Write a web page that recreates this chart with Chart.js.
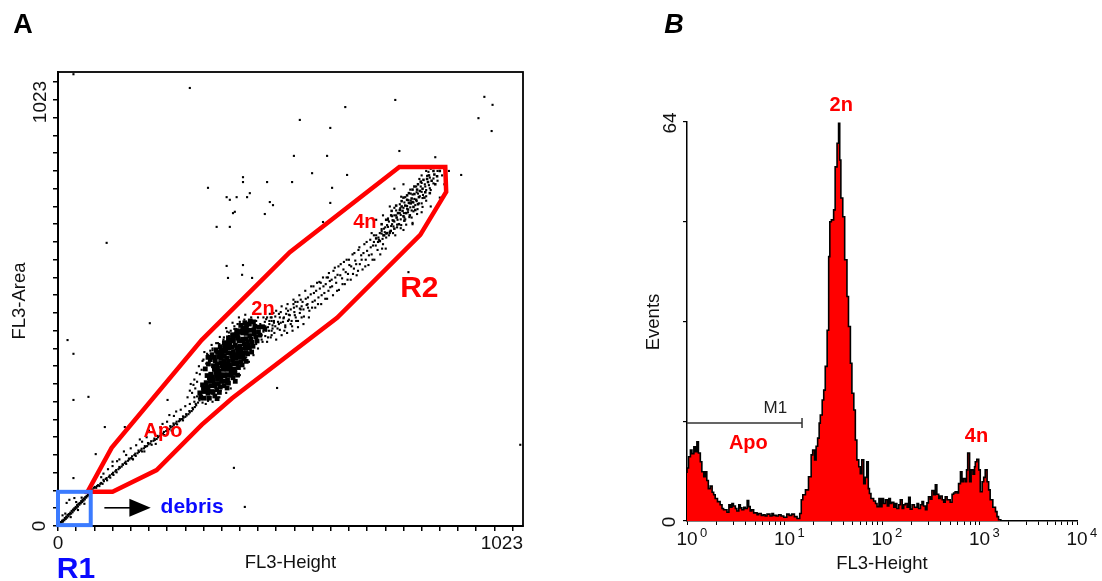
<!DOCTYPE html>
<html><head><meta charset="utf-8">
<script src="https://cdn.jsdelivr.net/npm/chart.js@4.4.1/dist/chart.umd.min.js"></script>
<style>
html,body{margin:0;padding:0;background:#fff;}
#wrap{position:relative;width:1102px;height:581px;background:#fff;}
canvas{position:absolute;left:0;top:0;}
</style></head><body>
<div id="wrap"><canvas id="c1" width="1102" height="581"></canvas><canvas id="c2" width="1102" height="581"></canvas></div>
<script>
// ---------- Panel A: FL3-Height vs FL3-Area (channel units 0-1023) ----------
const scatterTicks = [0,40,80,120,160,200,240,280,320,360,400,440,480,520,560,600,640,680,720,760,800,840,880,920,960,1000];

const debrisXY = [3,6, 5,4, 6,9, 8,8, 9,12, 11,10, 12,14, 14,13, 15,18, 17,16, 18,21, 20,19, 21,25, 23,22, 24,27, 26,26, 27,30, 29,28, 30,34, 32,31, 33,37, 35,35, 36,40, 38,38, 39,43, 41,41, 42,47, 44,44, 45,50, 47,48, 48,52, 50,51, 51,56, 53,54, 54,59, 56,57, 57,62, 59,60, 60,65, 62,64, 63,68, 65,67, 66,71, 68,70, 69,74, 19,52, 25,59, 36,63, 10,24, 44,36, 52,64, 28,20, 58,50, 16,28, 40,54];

const apoXY = [70,78, 74,84, 77,80, 81,88, 84,86, 88,92, 91,90, 95,97, 98,95, 101,101, 105,106, 108,103, 112,111, 115,109, 119,117, 122,115, 126,123, 129,121, 133,128, 136,131, 140,134, 143,138, 147,142, 150,140, 154,147, 157,150, 161,153, 164,151, 168,160, 171,158, 175,164, 178,167, 182,170, 185,168, 189,175, 192,178, 196,180, 199,184, 203,186, 206,183, 210,192, 213,194, 217,196, 220,200, 224,203, 227,206, 231,208, 234,205, 238,214, 241,216, 245,218, 248,222, 252,224, 255,228, 259,231, 262,229, 266,236, 269,238, 273,241, 276,244, 280,246, 283,249, 287,252, 290,256, 294,259, 297,263, 301,268, 304,272, 308,278, 311,283,
 100,118, 120,135, 135,150, 150,160, 160,175, 172,182, 185,190, 195,200, 210,212, 225,222, 240,235, 255,248, 270,262, 290,275, 300,290, 95,110, 130,146, 180,195, 200,215, 260,258, 230,230, 245,250, 280,270, 120,145, 145,168, 205,228, 110,128, 165,150, 190,168, 215,185, 250,215, 275,238];

const apo2XY = [72,82, 79,86, 86,90, 93,95, 100,104, 107,108, 114,114, 121,120, 128,126, 135,133, 142,139, 149,145, 156,152, 163,157, 170,163, 177,170, 184,174, 191,180, 198,187, 205,191, 212,197, 219,203, 226,209, 233,212, 240,219, 247,225, 254,231, 261,235, 268,241, 275,247, 282,252, 289,259, 296,266, 303,275, 310,287];

const g1CoreXY = [312,300, 320,310, 327,314, 335,326, 342,328, 349,338, 356,341, 363,353, 370,358, 377,363, 384,375, 391,378, 398,387, 405,390, 412,402, 419,407, 427,414, 435,426, 444,430, 455,444,
 318,318, 326,323, 333,334, 340,336, 347,346, 354,349, 361,361, 368,366, 375,371, 382,383, 389,386, 396,395, 403,398, 410,410, 417,415, 424,421, 432,433, 441,437, 450,449,
 314,291, 322,303, 330,306, 337,316, 344,319, 351,331, 358,336, 365,341, 372,353, 379,356, 386,365, 393,368, 400,380, 407,385, 414,391, 421,402, 429,405, 438,417,
 328,339, 336,342, 344,353, 351,356, 358,368, 365,373, 372,378, 379,390, 386,393, 393,402, 400,405, 407,417, 414,422, 422,429, 431,442, 442,448,
 322,288, 330,299, 338,303, 346,316, 353,321, 360,326, 367,338, 374,341, 381,350, 388,353, 395,365, 402,370, 409,376, 417,388, 426,392,
 342,361, 350,365, 358,378, 366,384, 374,390, 382,403, 390,407, 398,417, 406,421, 414,434, 423,441, 433,450,
 333,288, 341,301, 349,307, 357,313, 365,326, 373,330, 381,340, 389,344, 397,357, 405,363, 414,371,
 356,386, 366,394, 376,402, 386,417, 396,423, 406,435, 416,441,
 345,293, 355,301, 365,316, 375,322, 385,334, 395,340,
 370,408, 392,431, 410,446, 350,287, 372,311, 390,326,
 335,375, 343,380, 351,391, 359,396, 367,404, 375,414, 383,420, 391,428, 399,438, 407,444, 415,452, 423,462,
 330,380, 339,386, 348,397, 357,404, 366,413, 375,424, 384,431, 393,440, 402,452, 411,458,
 324,354, 331,365, 346,372, 353,381, 361,390, 369,398, 378,409, 386,425, 395,433, 404,440, 413,447, 421,455, 430,460];

const g1HaloXY = [300,330, 305,345, 295,300, 310,360, 320,375, 330,385, 340,400, 355,410, 365,425, 380,440, 395,455, 410,465, 425,470, 440,470, 455,460, 465,455, 470,440, 462,425, 450,415, 440,400, 430,385, 420,370, 410,355, 400,340, 390,325, 380,310, 370,300, 355,290, 340,280, 325,275, 315,285, 298,318, 290,305, 312,342, 335,395, 348,412, 372,438, 388,450, 445,455, 460,470, 475,462, 478,450, 470,470, 300,280, 285,290, 292,320,
 302,310, 306,325, 316,352, 326,366, 336,380, 346,392, 360,404, 376,428, 392,444, 404,452, 420,458, 436,462, 452,470, 466,478, 458,440, 448,430, 436,410, 424,396, 414,380, 404,366, 392,350, 382,336, 370,322, 358,305, 344,292, 330,282, 318,278, 306,292,
 328,388, 340,396, 352,412, 364,420, 376,436, 388,444, 400,460, 318,372, 322,392, 338,408, 356,426, 370,446, 384,458, 398,470, 412,476, 430,478];

const sPhaseXY = [462,448, 468,470, 470,430, 475,458, 480,485, 483,445, 488,470, 492,495, 495,460, 498,440, 502,478, 505,500, 508,465, 512,488, 515,450, 518,510, 521,475, 525,495, 528,462, 531,520, 534,488, 538,505, 541,472, 544,530, 547,498, 550,515, 553,485, 557,540, 560,505, 563,525, 566,492, 570,548, 573,515, 576,535, 579,500, 583,560, 586,525, 589,545, 592,512, 596,570, 599,538, 602,555, 605,520, 609,582, 612,548, 615,566, 618,532, 622,590, 625,558, 628,578, 631,545, 635,600, 638,568, 641,588, 644,555, 648,612, 651,580, 654,598, 657,565, 661,622, 664,590, 667,610, 670,578, 674,635, 677,600, 680,620, 683,588, 687,645, 690,612, 693,632, 696,600, 700,655, 703,622, 706,645, 709,612, 712,665, 715,635, 718,655, 721,625, 724,678];

const sPhase2XY = [465,462, 472,445, 478,472, 486,455, 490,482, 497,470, 500,452, 506,485, 510,475, 514,462, 519,492, 523,470, 527,505, 532,480, 536,495, 540,488, 545,512, 549,500, 552,470, 556,522, 559,492, 565,508, 568,530, 572,500, 575,550, 580,520, 584,540, 588,512, 591,560, 595,530, 598,552, 603,540, 606,575, 610,560, 614,530, 617,585, 621,565, 626,545, 629,595, 633,572, 637,555, 640,600, 645,585, 649,568, 652,615, 656,590, 660,575, 663,628, 668,600, 672,615, 676,585, 679,640, 684,610, 688,628, 692,600, 695,655, 699,632, 704,640, 708,660, 713,625, 717,670, 722,650, 726,690, 730,660, 735,680, 740,700];

const sPhase3XY = [448,420, 452,438, 456,428, 460,415, 464,440, 468,425, 472,452, 476,435, 480,420, 484,460, 488,442, 492,430, 496,468, 500,448, 504,435, 508,476, 512,455, 516,440, 520,482, 524,462, 528,448, 532,490, 536,470, 540,455, 456,450, 470,462, 486,478, 502,490, 518,500, 534,510, 446,432, 458,466, 474,480, 490,458, 506,462, 522,505, 550,492, 562,540, 578,548, 594,560];

const g2XY = [705,650, 712,659, 719,662, 726,674, 733,676, 740,686, 747,690, 754,701, 761,705, 768,715, 775,718, 782,729, 789,732, 796,743, 803,746, 810,757, 818,761, 826,772, 835,778,
 712,669, 720,673, 728,686, 736,689, 744,700, 752,705, 760,717, 768,721, 776,733, 784,737, 792,749, 800,753, 808,765, 816,768, 826,783,
 714,647, 722,659, 730,663, 738,675, 746,679, 754,691, 762,695, 770,707, 778,711, 786,723, 794,727, 802,739, 810,743, 820,757,
 726,693, 735,698, 744,711, 753,716, 762,729, 771,734, 780,747, 789,752, 798,765, 807,770, 818,785,
 728,655, 737,660, 746,673, 755,678, 764,691, 773,696, 782,709, 791,714, 800,727, 810,733,
 740,717, 752,725, 764,741, 776,749, 788,765, 800,773, 812,789,
 742,655, 754,671, 766,679, 778,695, 790,703, 802,719,
 755,742, 775,758, 795,782, 815,798, 760,667, 780,683, 800,707,
 690,660, 700,690, 695,640, 845,790, 850,770, 835,800, 820,805, 800,790, 760,770, 740,760, 780,680, 820,720, 840,740, 730,720, 715,700, 850,805, 860,800, 810,800];

const g2bXY = [758,710, 764,722, 770,713, 776,727, 782,719, 788,735, 794,741, 772,728, 778,738, 784,748, 790,758, 766,705, 760,698, 752,712, 745,695, 738,688, 733,700, 748,705, 756,720, 768,735, 780,730, 796,755, 802,760, 808,752, 814,775, 822,778, 828,792, 834,788, 840,800, 830,770, 818,750, 806,740, 792,725, 786,712, 774,700, 762,688, 750,680, 740,670, 732,665, 724,660, 716,655, 708,642, 700,648, 712,680, 722,690, 734,710, 744,722, 756,732, 768,745, 780,758, 792,770, 804,780, 816,790, 826,800, 760,740, 772,750, 784,765, 798,776, 812,782];

const outlierXY = [34,1018, 107,638, 21,419, 34,388, 34,284, 67,291, 103,223, 34,108, 202,457, 241,284, 387,131, 411,43, 147,223, 83,162, 1017,183, 330,762, 407,786, 407,775, 460,775, 371,741, 378,735, 393,741, 422,750, 416,741, 466,730, 473,723, 389,708, 385,705, 455,703, 349,674, 378,674, 519,834, 592,834, 751,845, 830,831, 887,791, 559,795, 636,791, 515,775, 603,762, 599,728, 371,586, 407,588, 374,559, 405,566, 427,559, 482,311, 771,572, 583,685, 290,987, 938,967, 956,949, 925,919, 954,890, 742,960, 632,944, 599,897, 532,915];

const r2Gate = [[65,77],[118,176],[316,419],[510,617],[751,809],[852,809],[854,753],[797,656],[614,469],[383,288],[316,228],[217,126],[120,77]];
const r1Gate = [[0,2],[72,77]];

// ---------- Panel B: FL3-Height histogram (1024 log channels, 256 per decade) ----------
const histCh = [0,4,9,13,18,22,26,30,35,39,44,48,52,56,61,66,70,74,80,87,92,96,105,110,114,118,122,127,131,136,140,144,149,153,158,162,166,170,175,180,184,188,195,200,205,210,218,223,227,234,240,247,254,262,268,275,282,289,296,300,
 304,311,319,326,330,335,339,343,347,350,355,359,363,368,372,375,379,385,389,394,398,401,404,409,414,420,424,429,433,438,442,446,451,455,459,464,468,472,476,479,483,490,495,499,504,508,512,516,521,526,530,534,538,543,
 547,551,556,560,565,569,573,578,582,586,591,597,604,608,613,617,621,626,630,634,639,643,648,652,656,661,665,670,674,678,683,687,691,696,700,704,709,713,718,722,726,731,734,737,742,746,751,755,757,761,766,770,775,779,783,788,792,796,803,810,814,818,824,831];
const histCount = [7.7,8.5,10.3,11.4,10.8,11.9,11.1,12.7,10.9,9.5,7.9,7.1,7.9,6.5,5.2,5.6,4.6,4.2,3.6,3.1,2.6,2.0,1.8,1.4,2.6,2.2,2.8,2.4,2.0,1.6,2.6,2.1,1.8,2.2,2.0,3.3,2.3,1.6,1.8,1.3,1.3,1.0,1.2,0.9,1.0,0.8,1.1,0.8,1.2,0.9,0.8,1.0,0.8,0.6,1.1,0.9,1.1,0.7,0.4,1.2,
 3.4,4.2,5.0,7.1,10.6,11.4,9.8,12.0,13.3,15.7,17.0,19.4,21.0,24.8,30.6,42.4,48.0,48.3,49.9,56.8,60.6,63.8,57.9,51.8,48.8,41.9,36.0,31.2,25.3,20.5,17.8,13.0,9.8,8.7,7.6,9.8,6.0,7.0,9.5,5.2,4.4,3.6,3.2,2.8,2.3,3.6,2.3,3.6,2.8,3.4,2.4,3.6,2.8,3.0,
 2.2,2.8,2.0,2.6,3.4,2.0,2.6,2.8,2.2,3.8,1.9,2.6,2.2,2.8,2.0,2.6,3.1,2.4,1.8,2.9,3.9,3.5,4.9,4.2,5.8,4.3,3.6,4.0,3.4,3.0,3.9,3.4,3.4,3.0,4.3,4.5,4.7,4.5,6.0,7.9,6.3,6.8,6.3,8.2,10.9,6.3,8.2,7.5,8.7,9.5,9.9,8.2,4.7,6.3,7.0,8.2,6.3,5.0,3.4,2.2,1.5,0.7,0.2,0];
const histYTicks = [0,16,32,48,64];
const decades = [0,1,2,3,4];
const m1Gate = [0,302];
const m1Level = 15.7;

// ---------- helpers ----------
const F = '"Liberation Sans", Arial, Helvetica, sans-serif';
const pairs = a => { const r = []; for (let i = 0; i < a.length; i += 2) r.push({x: a[i], y: a[i+1]}); return r; };
function rotText(ctx, t, x, y) { ctx.save(); ctx.translate(x, y); ctx.rotate(-Math.PI/2); ctx.textAlign = 'center'; ctx.textBaseline = 'alphabetic'; ctx.fillText(t, 0, 0); ctx.restore(); }
function dotSet(arr, r) { return {data: pairs(arr), pointStyle: 'rect', pointRadius: r, pointBackgroundColor: '#000', pointBorderWidth: 0, showLine: false}; }

// ---------- Panel A ----------
const leftDecor = {
  id: 'leftDecor',
  afterDatasetsDraw(chart) {
    const {ctx, chartArea: a, scales: {x, y}} = chart;
    const X = v => x.getPixelForValue(v), Y = v => y.getPixelForValue(v);
    ctx.save();
    ctx.strokeStyle = '#000'; ctx.lineWidth = 1.8;
    ctx.strokeRect(a.left, a.top, a.right - a.left, a.bottom - a.top);
    // R2 gate
    ctx.beginPath();
    r2Gate.forEach((p, i) => i ? ctx.lineTo(X(p[0]), Y(p[1])) : ctx.moveTo(X(p[0]), Y(p[1])));
    ctx.closePath(); ctx.strokeStyle = '#ff0000'; ctx.lineWidth = 4.5; ctx.lineJoin = 'miter'; ctx.stroke();
    // R1 gate
    ctx.strokeStyle = '#3b7bff'; ctx.lineWidth = 4;
    ctx.strokeRect(X(r1Gate[0][0]), Y(r1Gate[1][1]), X(r1Gate[1][0]) - X(r1Gate[0][0]), Y(r1Gate[0][1]) - Y(r1Gate[1][1]));
    // arrow
    const ay = Y(41);
    ctx.strokeStyle = '#000'; ctx.lineWidth = 1.6;
    ctx.beginPath(); ctx.moveTo(X(102), ay); ctx.lineTo(X(160), ay); ctx.stroke();
    ctx.fillStyle = '#000';
    ctx.beginPath(); ctx.moveTo(X(157), ay - 9); ctx.lineTo(X(204), ay); ctx.lineTo(X(157), ay + 9); ctx.closePath(); ctx.fill();
    // labels
    ctx.textAlign = 'center'; ctx.textBaseline = 'middle';
    ctx.fillStyle = '#ff0000';
    ctx.font = 'bold 20px ' + F;
    ctx.fillText('Apo', X(231), Y(213));
    ctx.fillText('2n', X(451), Y(489));
    ctx.fillText('4n', X(675), Y(684));
    ctx.font = 'bold 30px ' + F;
    ctx.fillText('R2', X(795), Y(534));
    ctx.fillStyle = '#0a0aff';
    ctx.font = 'bold 21px ' + F;
    ctx.fillText('debris', X(295), Y(43));
    ctx.textBaseline = 'alphabetic';
    ctx.font = 'bold 30px ' + F;
    ctx.fillText('R1', a.left + 18, 578);
    // axis labels
    ctx.fillStyle = '#111';
    ctx.font = '19px ' + F;
    ctx.textAlign = 'center'; ctx.fillText('0', X(0), 549);
    ctx.textAlign = 'right'; ctx.fillText('1023', a.right, 549);
    rotText(ctx, '0', 45, Y(0));
    rotText(ctx, '1023', 46, a.top + 30);
    ctx.font = '18.5px ' + F;
    ctx.textAlign = 'center'; ctx.fillText('FL3-Height', (a.left + a.right) / 2 + 0, 568);
    rotText(ctx, 'FL3-Area', 25, 301);
    ctx.fillStyle = '#000';
    ctx.font = 'bold 27px ' + F;
    ctx.textAlign = 'center'; ctx.fillText('A', 23, 33);
    ctx.restore();
  }
};

new Chart(document.getElementById('c1'), {
  type: 'scatter',
  data: { datasets: [
    dotSet(outlierXY, 1.5), dotSet(debrisXY, 1.5), dotSet(apoXY, 1.5), dotSet(apo2XY, 1.5), dotSet(g1HaloXY, 1.5),
    dotSet(sPhaseXY, 1.5), dotSet(sPhase2XY, 1.5), dotSet(sPhase3XY, 1.5), dotSet(g2XY, 1.5), dotSet(g2bXY, 1.8), dotSet(g1CoreXY, 3.4)
  ]},
  options: {
    responsive: false, animation: false, devicePixelRatio: 1, events: [],
    layout: { padding: { left: 10, top: 72, right: 579, bottom: 25 } },
    plugins: { legend: { display: false }, tooltip: { enabled: false } },
    scales: {
      x: { type: 'linear', min: 0, max: 1023,
        afterBuildTicks: s => { s.ticks = scatterTicks.map(v => ({value: v})); },
        afterFit: s => { s.height = 30; },
        ticks: { display: false },
        grid: { drawOnChartArea: false, drawTicks: true, tickLength: 5, color: '#000', lineWidth: 1.5 },
        border: { display: true, color: '#000', width: 2 } },
      y: { type: 'linear', min: 0, max: 1023,
        afterBuildTicks: s => { s.ticks = scatterTicks.map(v => ({value: v})); },
        afterFit: s => { s.width = 48; },
        ticks: { display: false },
        grid: { drawOnChartArea: false, drawTicks: true, tickLength: 5, color: '#000', lineWidth: 1.5 },
        border: { display: true, color: '#000', width: 2 } }
    }
  },
  plugins: [leftDecor]
});

// ---------- Panel B ----------
const logTicks = [];
decades.forEach(d => { if (d < 4) { for (let m = 1; m <= 9; m++) logTicks.push(256 * (d + Math.log10(m))); } else logTicks.push(1024); });

const rightDecor = {
  id: 'rightDecor',
  afterDraw(chart) {
    const {ctx, chartArea: a, scales: {x, y}} = chart;
    const X = v => x.getPixelForValue(v), Y = v => y.getPixelForValue(v);
    ctx.save();
    ctx.fillStyle = '#111';
    decades.forEach(d => {
      const px = X(d * 256);
      ctx.font = '19px ' + F; ctx.textAlign = 'center'; ctx.textBaseline = 'alphabetic';
      ctx.fillText('10', px, 545);
      ctx.font = '13px ' + F; ctx.textAlign = 'left';
      ctx.fillText(String(d), px + 13, 537);
    });
    ctx.font = '19px ' + F;
    rotText(ctx, '0', 675, Y(0) + 1);
    rotText(ctx, '64', 676, Y(64) + 1);
    ctx.font = '18.5px ' + F; ctx.textAlign = 'center';
    ctx.fillText('FL3-Height', (a.left + a.right) / 2, 569);
    rotText(ctx, 'Events', 659, 322);
    // M1 marker
    const my = Y(m1Level), mx1 = X(m1Gate[1]);
    ctx.strokeStyle = '#333'; ctx.lineWidth = 1.5;
    ctx.beginPath(); ctx.moveTo(X(m1Gate[0]), my); ctx.lineTo(mx1, my);
    ctx.moveTo(mx1, my - 5); ctx.lineTo(mx1, my + 5); ctx.stroke();
    ctx.fillStyle = '#222'; ctx.font = '17px ' + F; ctx.textAlign = 'center'; ctx.textBaseline = 'middle';
    ctx.fillText('M1', X(232), Y(18.1));
    // population labels
    ctx.fillStyle = '#ff0000'; ctx.font = 'bold 20px ' + F;
    ctx.fillText('2n', X(405), Y(66.7));
    ctx.fillText('Apo', X(161), Y(12.5));
    ctx.fillText('4n', X(760), Y(13.6));
    ctx.fillStyle = '#000'; ctx.font = 'italic bold 27px ' + F; ctx.textBaseline = 'alphabetic';
    ctx.fillText('B', 674, 33);
    ctx.restore();
  }
};

new Chart(document.getElementById('c2'), {
  type: 'line',
  data: { datasets: [{
    data: histCh.map((c, i) => ({x: c, y: histCount[i]})),
    stepped: 'after', fill: 'origin', backgroundColor: '#ff0000', borderColor: '#000', borderWidth: 1.6, pointRadius: 0, tension: 0
  }]},
  options: {
    responsive: false, animation: false, devicePixelRatio: 1, events: [],
    layout: { padding: { left: 640, top: 122, right: 25, bottom: 30 } },
    plugins: { legend: { display: false }, tooltip: { enabled: false } },
    scales: {
      x: { type: 'linear', min: 0, max: 1024,
        afterBuildTicks: s => { s.ticks = logTicks.map(v => ({value: v})); },
        afterFit: s => { s.height = 30; },
        ticks: { display: false },
        grid: { drawOnChartArea: false, drawTicks: true, tickLength: 4, color: '#000', lineWidth: 1 },
        border: { display: true, color: '#000', width: 1.5 } },
      y: { type: 'linear', min: 0, max: 64,
        afterBuildTicks: s => { s.ticks = histYTicks.map(v => ({value: v})); },
        afterFit: s => { s.width = 47; },
        ticks: { display: false },
        grid: { drawOnChartArea: false, drawTicks: true, tickLength: 4, color: '#000', lineWidth: 1.2 },
        border: { display: true, color: '#000', width: 1.5 } }
    }
  },
  plugins: [rightDecor]
});
</script>
</body></html>
